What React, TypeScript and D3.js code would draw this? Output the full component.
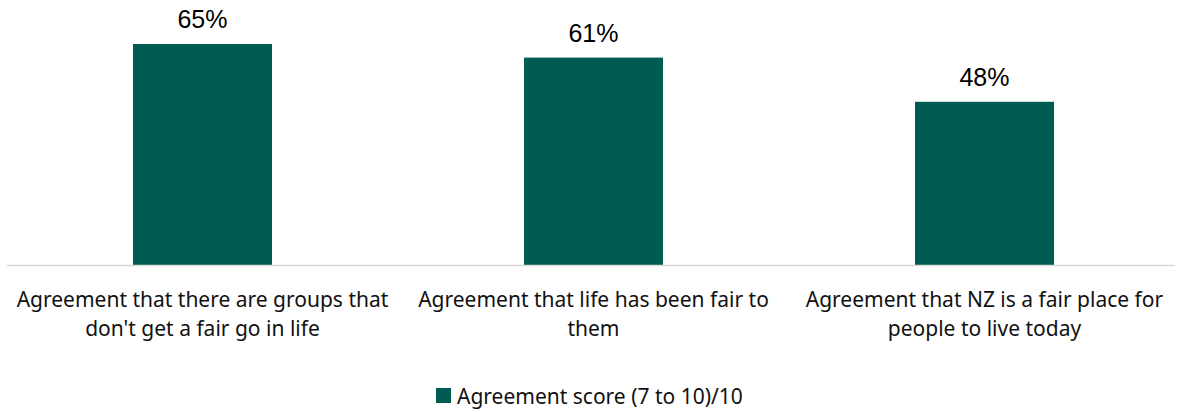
import React from "react";
import * as d3 from "d3";

const categories = [
  ["Agreement that there are groups that", "don't get a fair go in life"],
  ["Agreement that life has been fair to", "them"],
  ["Agreement that NZ is a fair place for", "people to live today"],
];
const values = [65, 61, 48];
const valueLabels = ["65%", "61%", "48%"];
const seriesName = "Agreement score (7 to 10)/10";

const W = 1178;
const H = 412;
const COLOR = "#005C52";

export default function App() {
  const x = d3
    .scaleBand<number>()
    .domain(values.map((_, i) => i))
    .range([7, 1180])
    .paddingInner(0.6445)
    .paddingOuter(0.32225);
  const y = d3.scaleLinear().domain([0, 70]).range([265, 27]);
  const catFont = "'Noto Sans', sans-serif";
  return (
    <svg
      width={W}
      height={H}
      style={{ position: "absolute", left: 0, top: 0, background: "#fff" }}
    >
      {values.map((v, i) => (
        <g key={i}>
          <rect
            x={x(i)}
            y={y(v)}
            width={x.bandwidth()}
            height={y(0) - y(v)}
            fill={COLOR}
          />
          <text
            x={(x(i) as number) + x.bandwidth() / 2}
            y={y(v) - 16}
            textAnchor="middle"
            fontFamily="'Liberation Sans', Arial, sans-serif"
            fontSize={25}
            fill="#000"
          >
            {valueLabels[i]}
          </text>
          {categories[i].map((line, j) => (
            <text
              key={j}
              x={(x(i) as number) + x.bandwidth() / 2}
              y={307 + j * 28.5}
              textAnchor="middle"
              fontFamily={catFont}
              fontSize={21}
              fill="#111"
            >
              {line}
            </text>
          ))}
        </g>
      ))}
      <line x1={7} x2={1175} y1={265.5} y2={265.5} stroke="#D9D9D9" strokeWidth={1.5} />
      <rect x={436} y={388} width={15} height={15} fill={COLOR} />
      <text x={457} y={403.5} fontFamily={catFont} fontSize={21} fill="#111">
        {seriesName}
      </text>
    </svg>
  );
}
